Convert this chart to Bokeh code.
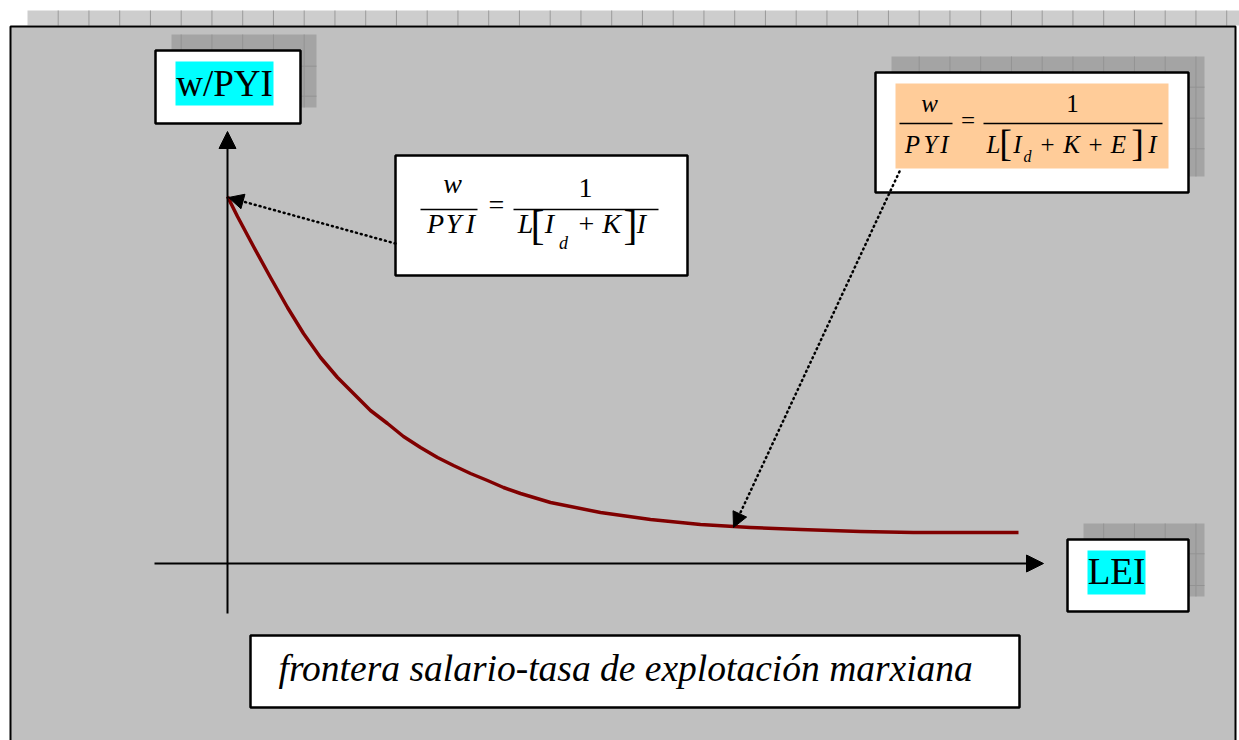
import numpy as np
from bokeh.plotting import figure
from bokeh.models import Range1d, Arrow, NormalHead, ColumnDataSource
from bokeh.core.properties import value
from bokeh.embed import file_html
from bokeh.resources import INLINE

# ---------------- data (page-pixel space) ----------------
curve_lei = [227, 237, 253, 270, 287, 303, 320, 337, 353, 370, 387, 403, 420, 437,
             453, 470, 487, 503, 520, 550, 600, 650, 700, 750, 800, 860, 913, 970, 1018]
curve_w = [196, 216, 246, 277, 307, 333, 357, 377, 393, 410, 423, 436, 447, 457,
           465, 473, 480, 487, 493, 502, 512, 519, 524, 527, 529, 531, 532, 532, 532]

y_axis_label = "w/PYI"
x_axis_label = "LEI"
caption = "frontera salario-tasa de explotación marxiana"

SERIF = value("Liberation Serif")
BASE_SHIFT = 0.35  # compensates the svg text baseline offset (fraction of font size)

p = figure(width=1239, height=740, output_backend="svg", toolbar_location=None,
           x_range=Range1d(0, 1239), y_range=Range1d(740, 0),
           x_axis_type=None, y_axis_type=None, min_border=0,
           background_fill_color="white", border_fill_color="white")
p.outline_line_color = None
p.grid.visible = False

# top hatched strip
p.quad(left=27, right=1240, top=10, bottom=25, fill_color="#CDCDCD", line_color=None)
gx = np.arange(57.7, 1240, 30.75)
p.segment(x0=gx, y0=10, x1=gx, y1=25, line_color="#9A9A9A", line_width=1)

# main gray frame
p.quad(left=10, right=1235, top=26, bottom=745, fill_color="#C0C0C0",
       line_color="black", line_width=2)


def shadow(l, r, t, b, ys):
    p.quad(left=l, right=r, top=t, bottom=b, fill_color="#A4A4A4", line_color=None)
    xs = gx[(gx > l) & (gx < r)]
    p.segment(x0=xs, y0=t, x1=xs, y1=b, line_color="#939393", line_width=1)
    ys = np.array(ys)
    p.segment(x0=l, y0=ys, x1=r, y1=ys, line_color="#939393", line_width=1)


def box(l, r, t, b):
    p.quad(left=l, right=r, top=t, bottom=b, fill_color="white",
           line_color="black", line_width=2.5)


def txt(x, y, s, size, italic=True, align="center"):
    p.text(x=[x], y=[y - BASE_SHIFT * size], text=[s], text_font=SERIF,
           text_font_size=value(f"{size}px"),
           text_font_style="italic" if italic else "normal", text_color="black",
           text_align=align, text_baseline="alphabetic")


def glyphs(items, y, size):
    for ch, x in items:
        txt(x, y, ch, size)


# ---- w/PYI box ----
shadow(171, 316, 34, 107, [65.7, 95.7])
box(155, 300, 50, 123)
p.quad(left=175, right=273, top=61, bottom=105, fill_color="#00FFFF", line_color=None)
txt(224, 96, y_axis_label, 37, italic=False)

# ---- LEI box ----
shadow(1083, 1204, 523, 596, [553.3, 585])
box(1067, 1188, 539, 611)
p.quad(left=1087, right=1145, top=550, bottom=594, fill_color="#00FFFF", line_color=None)
txt(1116, 584, x_axis_label, 37, italic=False)

# ---- formula box 2 ----
shadow(891, 1204, 56, 176, [86.7, 117.7, 148.3])
box(875, 1188, 72, 192)
p.quad(left=895, right=1168, top=83, bottom=168, fill_color="#FFCC99", line_color=None)
fs2 = 25
txt(929, 112, "w", fs2)
p.segment(x0=[899, 983], y0=[123, 123], x1=[952, 1162], y1=[123, 123], line_color="black", line_width=1.5)
glyphs([("P", 912), ("Y", 930), ("I", 944)], 153, fs2)
txt(967.5, 128.5, "=", fs2, italic=False)
txt(1072, 112, "1", fs2, italic=False)
glyphs([("L", 993), ("I", 1017), ("K", 1071), ("E", 1118), ("I", 1152)], 153, fs2)
txt(1047, 153, "+", fs2, italic=False)
txt(1095, 153, "+", fs2, italic=False)
txt(1027, 162, "d", 16)
txt(1005, 156, "[", 38, italic=False)
txt(1137, 156, "]", 38, italic=False)

# ---- formula box 1 ----
box(395, 687, 155, 275)
fs1 = 28
txt(452, 193, "w", fs1)
p.segment(x0=[420, 513], y0=[209, 209], x1=[477, 658], y1=[209, 209], line_color="black", line_width=1.5)
glyphs([("P", 435), ("Y", 453), ("I", 470)], 233, fs1)
txt(496, 214, "=", fs1, italic=False)
txt(585, 197, "1", fs1, italic=False)
glyphs([("L", 525), ("I", 549), ("K", 611), ("I", 641)], 233, fs1)
txt(586, 233, "+", fs1, italic=False)
txt(563, 249, "d", 18)
txt(537, 239, "[", 42, italic=False)
txt(630, 239, "]", 42, italic=False)

# ---- axes arrows ----
p.add_layout(Arrow(end=NormalHead(size=17, fill_color="black", line_color="black"),
                   x_start=227, y_start=613, x_end=227, y_end=131,
                   line_color="black", line_width=2))
p.add_layout(Arrow(end=NormalHead(size=17, fill_color="black", line_color="black"),
                   x_start=154, y_start=563, x_end=1043, y_end=563,
                   line_color="black", line_width=2))

# ---- curve ----
src = ColumnDataSource(dict(lei=curve_lei, w=curve_w))
p.line(x="lei", y="w", source=src, line_color="#800000", line_width=3.5, line_join="round")

# ---- dotted pointer arrows ----
p.add_layout(Arrow(end=NormalHead(size=15, fill_color="black", line_color="black"),
                   x_start=395, y_start=243, x_end=228, y_end=197,
                   line_color="black", line_width=2.5, line_dash="1 4", line_cap="round"))
p.add_layout(Arrow(end=NormalHead(size=15, fill_color="black", line_color="black"),
                   x_start=899, y_start=171, x_end=733, y_end=527,
                   line_color="black", line_width=2.5, line_dash="1 4", line_cap="round"))

# ---- caption ----
box(250, 1019, 635, 707)
txt(278, 681, caption, 37.5, align="left")

open("out.html", "w").write(file_html(p, INLINE))
